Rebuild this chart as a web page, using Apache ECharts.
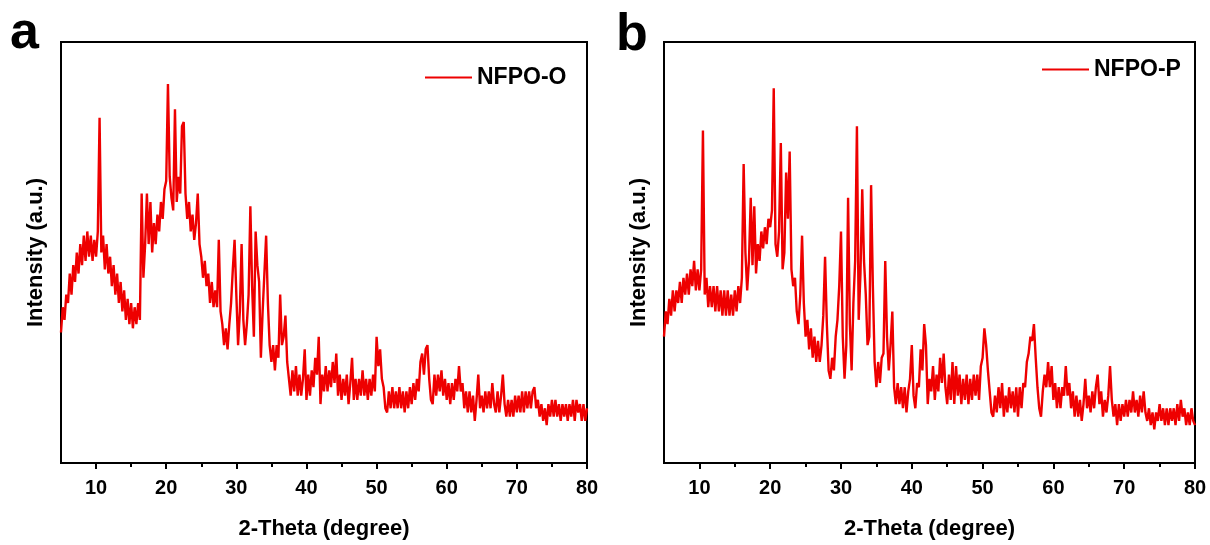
<!DOCTYPE html>
<html>
<head>
<meta charset="utf-8">
<script src="https://cdn.jsdelivr.net/npm/echarts@6/dist/echarts.min.js"></script>
<style>
html,body{margin:0;padding:0;background:#fff;}
#chart{width:1210px;height:545px;}
</style>
</head>
<body>
<div id="chart"></div>
<script>
// 2-Theta sampling grid: 5 to 80 degrees, step 0.25
const thetaStart = 5;
const thetaStep = 0.25;
const xTickLabels = [10, 20, 30, 40, 50, 60, 70, 80];
const xMinorTicks = [15, 25, 35, 45, 55, 65, 75];
const seriesNames = ['NFPO-O', 'NFPO-P'];
const panelLabels = ['a', 'b'];

// Intensity (a.u., 0-100 of plot height), one value per 0.25 deg
const nfpoO = [
 31,37,34,40, 38,45,40,47, 43,50,45,52, 47,54,48,55, 49,54,48,53,
 49,55,82,50, 54,46,52,45, 49,42,47,40, 45,38,43,36, 41,34,39,33,
 38,32,37,33, 38,34,64,44, 52,64,52,62, 50,57,52,59, 55,62,58,65,
 67,90,68,63, 60,84,62,68, 64,80,81,64, 58,62,55,59, 53,57,64,52,
 49,44,48,42, 45,38,43,37, 41,37,53,36, 33,28,32,27, 33,38,46,53,
 40,28,36,52, 34,28,33,40, 61,42,30,55, 47,43,25,36, 45,54,38,28,
 24,28,22,28, 25,40,28,30, 35,24,20,16, 22,17,23,16, 21,16,20,27,
 15,21,16,22, 18,25,21,30, 14,21,17,23, 17,22,18,24, 19,26,16,21,
 15,20,16,21, 14,19,25,15, 20,15,20,16, 22,16,20,15, 20,16,21,17,
 30,23,27,20, 18,13,12,17, 13,18,13,17, 13,18,13,17, 12,17,13,18,
 14,19,15,20, 17,24,26,21, 27,28,20,15, 14,21,16,21, 17,22,16,20,
 15,19,14,19, 15,20,17,23, 17,19,13,17, 12,17,12,16, 10,15,21,13,
 16,12,17,13, 17,13,19,14, 12,17,12,16, 21,14,11,15, 11,15,11,16,
 12,16,12,17, 12,17,13,17, 13,17,18,13, 15,11,14,10, 13,9,14,11,
 15,11,15,11, 14,10,14,11, 14,10,14,11, 15,10,15,12, 14,10,14,10,
 13
];
const nfpoP = [
 30,36,33,39, 35,41,36,41, 38,43,38,44, 40,45,40,46, 42,48,41,46,
 41,46,79,40, 44,37,42,37, 42,36,42,36, 41,35,41,35, 41,35,40,35,
 41,36,42,38, 44,71,50,41, 48,63,47,61, 45,52,48,55, 51,56,52,58,
 56,60,89,52, 49,55,76,46, 50,69,58,74, 46,42,44,36, 33,40,54,38,
 30,34,27,32, 25,30,24,29, 24,28,35,49, 33,22,20,25, 22,30,34,42,
 55,30,20,28, 63,33,22,38, 48,80,34,45, 65,48,40,28, 30,66,42,24,
 18,24,19,25, 26,48,30,22, 28,36,18,14, 19,14,18,13, 18,12,17,20,
 28,16,13,19, 18,27,22,33, 28,14,20,17, 23,15,21,17, 25,19,26,18,
 14,21,15,24, 14,23,16,21, 14,20,15,21, 14,20,15,21, 16,21,15,23,
 25,32,28,22, 17,12,11,16, 12,18,13,19, 11,16,12,18, 13,17,12,18,
 11,18,13,19, 18,24,26,30, 29,33,25,18, 13,11,17,21, 18,24,18,23,
 15,19,13,18, 13,18,16,23, 16,19,13,17, 11,16,11,15, 10,14,20,13,
 16,12,17,13, 18,21,14,17, 11,15,12,16, 23,15,11,14, 9,14,10,14,
 11,15,11,15, 12,17,12,15, 11,16,12,17, 12,10,13,9, 12,8,12,10,
 14,10,13,9, 13,9,13,10, 13,9,14,10, 15,11,13,9, 12,9,13,10,
 9
];

const FONT = '"Liberation Sans", Arial, sans-serif';
const RED = '#ee0000';
const toPairs = arr => arr.map((v, i) => [thetaStart + i * thetaStep, v]);

const grids = [
  {left: 61, top: 42, width: 526, height: 425},
  {left: 664, top: 42, width: 531, height: 429}
];

const labelStyle = {fontSize: 52, fontWeight: 'bold', color: '#000', fontFamily: FONT};
const legendText = {fontSize: 23, fontWeight: 'bold', color: '#000', fontFamily: FONT};

const option = {
  animation: false,
  backgroundColor: '#fff',
  title: [
    {text: panelLabels[0], left: 10, top: 8, padding: 0, textStyle: labelStyle},
    {text: panelLabels[1], left: 616, top: 10, padding: 0, textStyle: labelStyle}
  ],
  legend: [
    {data: [seriesNames[0]], left: 425, top: 66, padding: 0, icon: 'rect',
     itemWidth: 47, itemHeight: 2, textStyle: legendText},
    {data: [seriesNames[1]], left: 1042, top: 58, padding: 0, icon: 'rect',
     itemWidth: 47, itemHeight: 2, textStyle: legendText}
  ],
  grid: grids.map(g => Object.assign({show: true, borderColor: '#000', borderWidth: 2,
    backgroundColor: 'transparent', containLabel: false}, g)),
  xAxis: [0, 1].flatMap(gi => [
    {
      gridIndex: gi, type: 'value', min: 5, max: 80,
      axisLine: {show: true, onZero: false, lineStyle: {color: '#000', width: 2}},
      axisTick: {show: true, inside: false, length: 6, customValues: xTickLabels,
        lineStyle: {color: '#000', width: 2}},
      axisLabel: {show: true, customValues: xTickLabels, margin: 15, fontSize: 20,
        fontWeight: 'bold', color: '#000', fontFamily: FONT},
      splitLine: {show: false},
      name: '2-Theta (degree)', nameLocation: 'middle', nameGap: 55,
      nameTextStyle: {fontSize: 22, fontWeight: 'bold', color: '#000', fontFamily: FONT}
    },
    {
      gridIndex: gi, type: 'value', min: 5, max: 80, position: 'bottom',
      axisLine: {show: false},
      axisTick: {show: true, inside: false, length: 4, customValues: xMinorTicks,
        lineStyle: {color: '#000', width: 2}},
      axisLabel: {show: false},
      splitLine: {show: false}
    }
  ]),
  yAxis: [0, 1].map(gi => ({
    gridIndex: gi, type: 'value', min: 0, max: 100,
    axisLine: {show: true, lineStyle: {color: '#000', width: 2}},
    axisTick: {show: false},
    axisLabel: {show: false},
    splitLine: {show: false},
    name: 'Intensity (a.u.)', nameLocation: 'middle', nameGap: 14, nameRotate: 90,
    nameTextStyle: {fontSize: 22, fontWeight: 'bold', color: '#000', fontFamily: FONT}
  })),
  series: [
    {name: seriesNames[0], type: 'line', xAxisIndex: 0, yAxisIndex: 0, data: toPairs(nfpoO),
     symbol: 'none', lineStyle: {color: RED, width: 2.4}, itemStyle: {color: RED}},
    {name: seriesNames[1], type: 'line', xAxisIndex: 2, yAxisIndex: 1, data: toPairs(nfpoP),
     symbol: 'none', lineStyle: {color: RED, width: 2.4}, itemStyle: {color: RED}}
  ]
};

const chart = echarts.init(document.getElementById('chart'), null, {renderer: 'canvas'});
chart.setOption(option);
</script>
</body>
</html>
